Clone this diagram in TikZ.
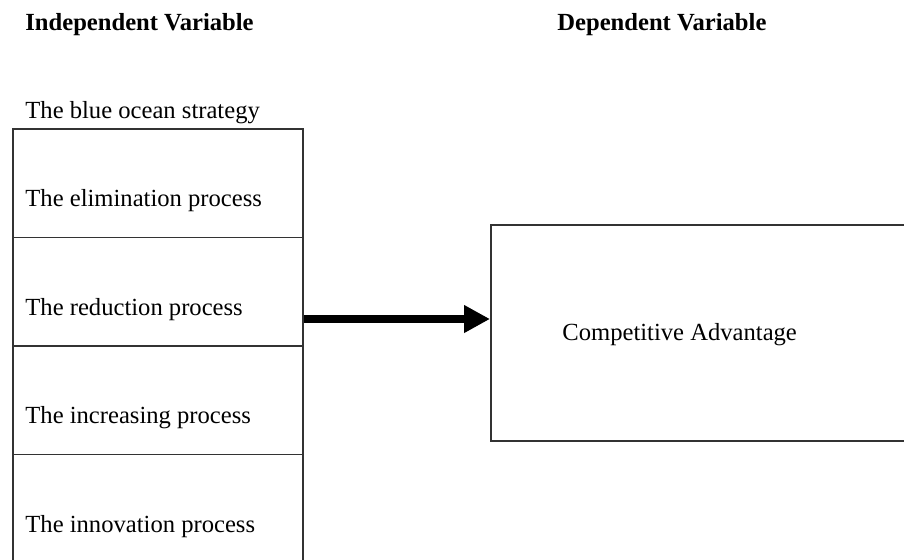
\documentclass[tikz,border=0pt]{standalone}
\usepackage{fontspec}
\setmainfont{Liberation Serif}
\usetikzlibrary{arrows.meta,positioning}
\def\px{0.4875pt}

\begin{document}
\begin{tikzpicture}[x=\px, y=-\px,
    lbl/.style={anchor=base west, inner sep=0pt, font=\fontsize{12}{14.4}\selectfont},
    hdr/.style={lbl, font=\fontsize{12}{14.4}\selectfont\bfseries},
    cell/.style={draw=black!80, line width=0.9pt, inner sep=0pt, anchor=north west,
      minimum width=290*\px, minimum height=108.5*\px}]
    \useasboundingbox (0,0) rectangle (904,559);
    \clip (0,0) rectangle (904,559);
    % headings
    \node[hdr] (IV) at (25,30) {Independent Variable};
    \node[hdr] (DV) at (557,30) {Dependent Variable};
    \node[lbl] (BOS) at (25,118) {The blue ocean strategy};
    % stacked cells
    \foreach \i/\w in {0/elimination,1/reduction,2/increasing,3/innovation} {
      \node[cell] (C\i) at (12, 128+108.5*\i) {};
      \node[lbl] (T\i) at ([xshift=13*\px, yshift=-78.5*\px]C\i.north west) {The \w\ process};
    }
    % dependent box
    \node[cell, minimum width=440*\px, minimum height=216*\px] (CA) at (490,224) {};
    \node[lbl] (CAT) at (562,340) {Competitive Advantage};
    \coordinate (src) at (C1.east |- 0,319);
    \draw[line width=3.9pt, -{Triangle[length=12.6pt,width=12.7pt]}] (src) -- (src -| CA.west);
  \end{tikzpicture}
\end{document}
